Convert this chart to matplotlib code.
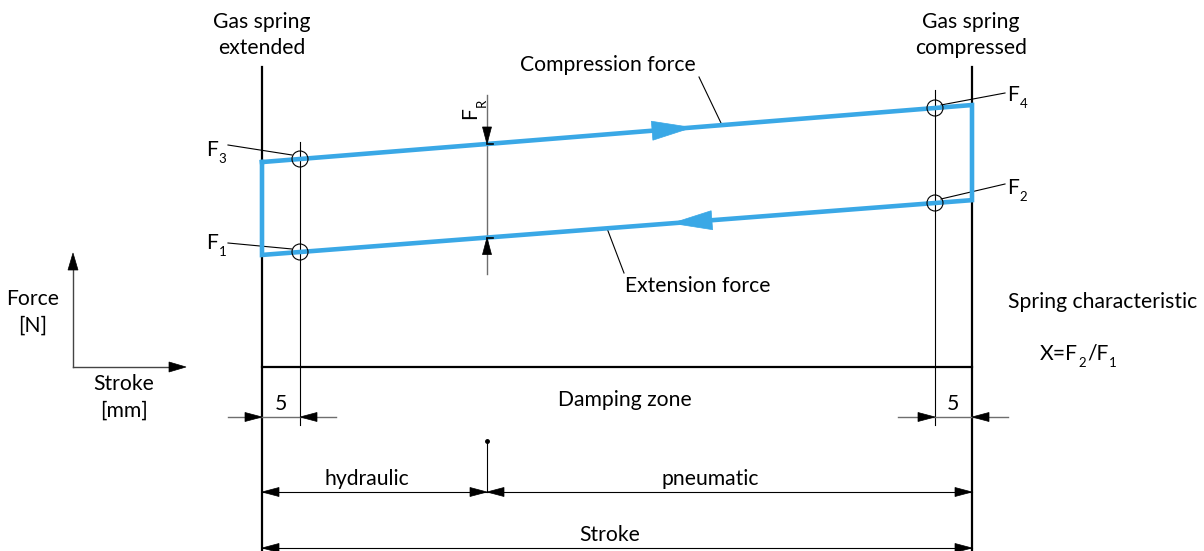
import matplotlib.pyplot as plt
from matplotlib.patches import Polygon, Circle
import numpy as np

plt.rcParams['font.family'] = ['Lato', 'DejaVu Sans']

# schematic data (drawing units = pixels of the original sheet, y downwards)
stroke_ends = [262, 972]          # gas spring extended / compressed
measure_x = [300, 935]            # measuring points, 5 mm inside each end
compression_force = [159, 108]    # F3, F4
extension_force = [252, 203]      # F1, F2
split_x = 487                     # hydraulic / pneumatic border
baseline_y = 367
top_y = 67
dim_5_y = 417
dim_split_y = 492
dim_stroke_y = 548
labels_f = ['3', '4', '1', '2']

BLUE = '#3aa8e6'
GREY = '#6e6e6e'
FS = 15.2
SUB = 9.5
LS = 1.4

fig = plt.figure(figsize=(12.04, 5.51), dpi=100)
ax = fig.add_axes([0, 0, 1, 1])
ax.set_xlim(0, 1204)
ax.set_ylim(551, 0)
ax.axis('off')
renderer = fig.canvas.get_renderer()


def line_y(xs, ys, x):
    k = (ys[1] - ys[0]) / (xs[1] - xs[0])
    return ys[0] + k * (x - xs[0])


def head(tip, direction, length=17, half=4.5, color='black', z=5):
    d = np.array(direction, float)
    d /= np.hypot(*d)
    n = np.array([-d[1], d[0]])
    tip = np.array(tip, float)
    base = tip - d * length
    pts = [tip, base + n * half, base - n * half]
    ax.add_patch(Polygon(pts, closed=True, facecolor=color, edgecolor=color, lw=0.5, zorder=z))


def write(x, y, parts):
    # parts: list of (text, subscript?) written left to right from x
    for s, sub in parts:
        t = ax.text(x, y + (9 if sub else 0), s, fontsize=SUB if sub else FS,
                    ha='left', va='center')
        bb = t.get_window_extent(renderer)
        x += bb.width + (1 if sub else 0.5)


# frame lines
for x in stroke_ends:
    ax.plot([x, x], [top_y, dim_stroke_y + 3], color='black', lw=1.6, zorder=2)
ax.plot(stroke_ends, [baseline_y, baseline_y], color='black', lw=1.6, zorder=2)
ax.plot([measure_x[0]] * 2, [142, 425], color='black', lw=0.8, zorder=2)
ax.plot([measure_x[1]] * 2, [90, 425], color='black', lw=0.8, zorder=2)

# blue loop
up = [line_y(measure_x, compression_force, x) for x in stroke_ends]
lo = [line_y(measure_x, extension_force, x) for x in stroke_ends]
loop_x = [stroke_ends[0], stroke_ends[1], stroke_ends[1], stroke_ends[0], stroke_ends[0]]
loop_y = [up[0], up[1], lo[1], lo[0], up[0]]
ax.plot(loop_x, loop_y, color=BLUE, lw=3.3, solid_joinstyle='miter', zorder=4)

k_up = (compression_force[1] - compression_force[0]) / (measure_x[1] - measure_x[0])
k_lo = (extension_force[1] - extension_force[0]) / (measure_x[1] - measure_x[0])
head((692, line_y(measure_x, compression_force, 692)), (1, k_up), length=40, half=9.5, color=BLUE)
head((672, line_y(measure_x, extension_force, 672)), (-1, -k_lo), length=40, half=9.5, color=BLUE)

# measuring circles and F labels
pts = [(measure_x[0], compression_force[0]), (measure_x[1], compression_force[1]),
       (measure_x[0], extension_force[0]), (measure_x[1], extension_force[1])]
for (px, py) in pts:
    ax.add_patch(Circle((px, py), 8, fill=False, ec='black', lw=0.8, zorder=6))

lab_pos = [(206, 150), (1007, 95), (206, 243), (1007, 188)]
lead_start = [(228, 145), (1005, 93), (228, 243), (1005, 184)]
lead_end = [(292, 155), (941, 105), (292, 249), (941, 199)]
for lab, (lx, ly), s, e in zip(labels_f, lab_pos, lead_start, lead_end):
    write(lx, ly, [('F', False), (lab, True)])
    ax.plot([s[0], e[0]], [s[1], e[1]], color='black', lw=0.8)

# F_R dimension
fr_top = line_y(measure_x, compression_force, split_x)
fr_bot = line_y(measure_x, extension_force, split_x)
ax.plot([split_x, split_x], [95, 274], color=GREY, lw=1.0, zorder=3)
head((split_x, fr_top), (0, 1))
head((split_x, fr_bot), (0, -1))
ax.plot([split_x, split_x + 6], [fr_top, fr_top], color='black', lw=1.2, zorder=5)
ax.plot([split_x, split_x + 6], [fr_bot, fr_bot], color='black', lw=1.2, zorder=5)
ax.text(470, 113, 'F', fontsize=FS, rotation=90, ha='center', va='center')
ax.text(482, 103, 'R', fontsize=SUB, rotation=90, ha='center', va='center')

# headers
ax.text(stroke_ends[0], 35, 'Gas spring\nextended', fontsize=FS, ha='center', va='center', linespacing=LS)
ax.text(stroke_ends[1] - 1, 35, 'Gas spring\ncompressed', fontsize=FS, ha='center', va='center', linespacing=LS)

# curve names with leaders
ax.text(608, 65, 'Compression force', fontsize=FS, ha='center', va='center')
ax.plot([699, 722], [77, line_y(measure_x, compression_force, 722)], color='black', lw=0.8)
ax.text(698, 286, 'Extension force', fontsize=FS, ha='center', va='center')
ax.plot([607, 624], [line_y(measure_x, extension_force, 607), 273], color='black', lw=0.8)

# axis sketch
ax.plot([73, 73], [baseline_y, 268], color='#444444', lw=1.0)
head((73, 253), (0, -1), length=17, half=5)
ax.plot([73, 170], [baseline_y, baseline_y], color='#444444', lw=1.0)
head((186, baseline_y), (1, 0), length=17, half=5)
ax.text(33, 312, 'Force\n[N]', fontsize=FS, ha='center', va='center', linespacing=LS)
ax.text(124, 397, 'Stroke\n[mm]', fontsize=FS, ha='center', va='center', linespacing=LS)

# spring characteristic
ax.text(1008, 302, 'Spring characteristic', fontsize=FS, ha='left', va='center')
write(1040, 354, [('X=F', False), ('2', True), ('/F', False), ('1', True)])

# 5 mm dimensions
ax.plot([228, 336], [dim_5_y, dim_5_y], color=GREY, lw=1.0)
head((stroke_ends[0], dim_5_y), (1, 0))
head((measure_x[0], dim_5_y), (-1, 0))
ax.text(281, 404, '5', fontsize=FS, ha='center', va='center')
ax.plot([898, 1008], [dim_5_y, dim_5_y], color=GREY, lw=1.0)
head((measure_x[1], dim_5_y), (1, 0))
head((stroke_ends[1], dim_5_y), (-1, 0))
ax.text(953, 404, '5', fontsize=FS, ha='center', va='center')
ax.text(625, 400, 'Damping zone', fontsize=FS, ha='center', va='center')

# hydraulic / pneumatic
ax.plot([split_x, split_x], [441, dim_split_y], color='black', lw=0.8)
ax.plot([split_x], [441], marker='o', ms=2.5, color='black')
ax.plot(stroke_ends, [dim_split_y, dim_split_y], color='black', lw=0.8)
head((stroke_ends[0], dim_split_y), (-1, 0))
head((split_x, dim_split_y), (1, 0))
head((split_x, dim_split_y), (-1, 0))
head((stroke_ends[1], dim_split_y), (1, 0))
ax.text(367, 479, 'hydraulic', fontsize=FS, ha='center', va='center')
ax.text(710, 479, 'pneumatic', fontsize=FS, ha='center', va='center')

# stroke
ax.plot(stroke_ends, [dim_stroke_y, dim_stroke_y], color='black', lw=0.8)
head((stroke_ends[0], dim_stroke_y), (-1, 0))
head((stroke_ends[1], dim_stroke_y), (1, 0))
ax.text(610, 535, 'Stroke', fontsize=FS, ha='center', va='center')

fig.savefig('out.png', dpi=100)
